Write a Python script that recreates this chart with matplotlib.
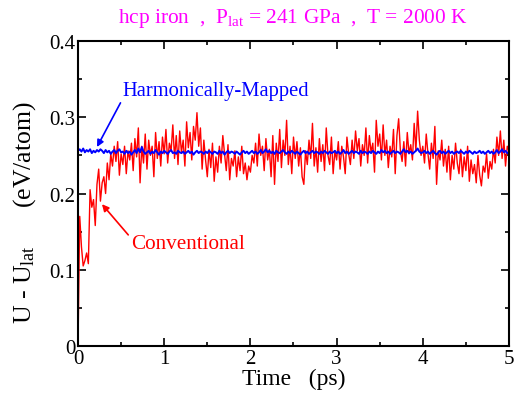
import numpy as np
import matplotlib
matplotlib.use("Agg")
import matplotlib.pyplot as plt
from matplotlib.ticker import MultipleLocator

plt.rcParams['font.family'] = ['Liberation Serif', 'DejaVu Serif']
plt.rcParams['mathtext.fontset'] = 'custom'
plt.rcParams['mathtext.rm'] = 'Liberation Serif'
plt.rcParams['mathtext.it'] = 'Liberation Serif:italic'

# 数据：时间步长 0.02 ps
dt = 0.02
conventional = [
    0.000, 0.170, 0.130, 0.105, 0.112, 0.122, 0.108, 0.205, 0.182, 0.192,
    0.158, 0.212, 0.232, 0.190, 0.214, 0.222, 0.200, 0.240, 0.218, 0.252,
    0.236, 0.262, 0.242, 0.268, 0.224, 0.252, 0.238, 0.262, 0.226, 0.256,
    0.244, 0.266, 0.230, 0.272, 0.248, 0.286, 0.214, 0.262, 0.240, 0.278,
    0.232, 0.270, 0.250, 0.262, 0.222, 0.280, 0.246, 0.268, 0.236, 0.274,
    0.252, 0.284, 0.240, 0.266, 0.256, 0.290, 0.246, 0.276, 0.238, 0.282,
    0.254, 0.270, 0.236, 0.294, 0.260, 0.280, 0.244, 0.288, 0.270, 0.306,
    0.262, 0.286, 0.232, 0.270, 0.244, 0.222, 0.258, 0.234, 0.266, 0.216,
    0.248, 0.228, 0.262, 0.240, 0.276, 0.252, 0.230, 0.264, 0.218, 0.246,
    0.236, 0.256, 0.222, 0.248, 0.230, 0.262, 0.226, 0.240, 0.218, 0.236,
    0.228, 0.250, 0.240, 0.266, 0.236, 0.278, 0.250, 0.262, 0.230, 0.272,
    0.244, 0.258, 0.222, 0.276, 0.212, 0.266, 0.242, 0.284, 0.234, 0.270,
    0.250, 0.296, 0.238, 0.262, 0.226, 0.274, 0.246, 0.268, 0.236, 0.260,
    0.222, 0.212, 0.256, 0.238, 0.270, 0.246, 0.292, 0.236, 0.260, 0.228,
    0.272, 0.242, 0.264, 0.230, 0.286, 0.250, 0.238, 0.274, 0.226, 0.256,
    0.244, 0.268, 0.232, 0.262, 0.248, 0.226, 0.274, 0.252, 0.238, 0.270,
    0.246, 0.282, 0.256, 0.272, 0.236, 0.264, 0.250, 0.286, 0.240, 0.276,
    0.254, 0.266, 0.228, 0.296, 0.262, 0.278, 0.244, 0.290, 0.250, 0.270,
    0.234, 0.262, 0.248, 0.284, 0.226, 0.276, 0.298, 0.256, 0.242, 0.268,
    0.236, 0.280, 0.252, 0.264, 0.244, 0.292, 0.256, 0.308, 0.270, 0.250,
    0.262, 0.240, 0.278, 0.252, 0.232, 0.266, 0.246, 0.288, 0.212, 0.256,
    0.244, 0.270, 0.236, 0.258, 0.228, 0.262, 0.218, 0.250, 0.232, 0.266,
    0.240, 0.226, 0.258, 0.222, 0.248, 0.230, 0.262, 0.216, 0.244, 0.226,
    0.238, 0.214, 0.250, 0.224, 0.210, 0.236, 0.228, 0.252, 0.220, 0.242,
    0.232, 0.258, 0.240, 0.274, 0.250, 0.282, 0.246, 0.270, 0.236, 0.262,
    0.256,
]
mapped = [
    0.256, 0.258, 0.255, 0.259, 0.254, 0.257, 0.255, 0.258, 0.253, 0.256,
    0.254, 0.257, 0.255, 0.258, 0.256, 0.253, 0.257, 0.254, 0.256, 0.252,
    0.255, 0.257, 0.253, 0.256, 0.258, 0.254, 0.255, 0.252, 0.256, 0.253,
    0.255, 0.251, 0.254, 0.257, 0.253, 0.259, 0.254, 0.261, 0.255, 0.252,
    0.254, 0.256, 0.252, 0.255, 0.253, 0.257, 0.254, 0.251, 0.255, 0.253,
    0.256, 0.254, 0.252, 0.255, 0.257, 0.253, 0.254, 0.252, 0.256, 0.254,
    0.253, 0.255, 0.252, 0.254, 0.256, 0.253, 0.255, 0.251, 0.254, 0.256,
    0.253, 0.255, 0.254, 0.252, 0.255, 0.253, 0.256, 0.254, 0.252, 0.255,
    0.254, 0.252, 0.256, 0.253, 0.255, 0.251, 0.254, 0.256, 0.253, 0.255,
    0.254, 0.252, 0.255, 0.253, 0.251, 0.254, 0.256, 0.253, 0.255, 0.252,
    0.254, 0.256, 0.253, 0.255, 0.252, 0.254, 0.257, 0.253, 0.255, 0.258,
    0.254, 0.256, 0.253, 0.255, 0.252, 0.256, 0.254, 0.253, 0.255, 0.257,
    0.254, 0.252, 0.255, 0.253, 0.256, 0.254, 0.252, 0.255, 0.253, 0.251,
    0.254, 0.256, 0.253, 0.255, 0.252, 0.254, 0.256, 0.253, 0.255, 0.254,
    0.252, 0.255, 0.253, 0.256, 0.254, 0.252, 0.255, 0.253, 0.254, 0.256,
    0.253, 0.255, 0.252, 0.254, 0.257, 0.253, 0.255, 0.252, 0.254, 0.256,
    0.253, 0.255, 0.254, 0.252, 0.256, 0.253, 0.255, 0.254, 0.252, 0.255,
    0.253, 0.256, 0.254, 0.252, 0.255, 0.253, 0.257, 0.254, 0.256, 0.253,
    0.255, 0.252, 0.254, 0.256, 0.253, 0.255, 0.254, 0.252, 0.255, 0.258,
    0.254, 0.256, 0.253, 0.255, 0.252, 0.254, 0.256, 0.259, 0.255, 0.253,
    0.254, 0.256, 0.253, 0.255, 0.252, 0.254, 0.256, 0.253, 0.251, 0.254,
    0.256, 0.253, 0.255, 0.252, 0.254, 0.256, 0.253, 0.255, 0.252, 0.254,
    0.255, 0.253, 0.256, 0.254, 0.252, 0.255, 0.253, 0.256, 0.254, 0.252,
    0.255, 0.253, 0.254, 0.256, 0.253, 0.255, 0.252, 0.254, 0.256, 0.253,
    0.255, 0.252, 0.254, 0.257, 0.253, 0.255, 0.258, 0.254, 0.256, 0.253,
    0.254,
]
time = np.arange(len(conventional)) * dt

fig = plt.figure(figsize=(5.18, 4.02), dpi=100)
ax = fig.add_axes([0.1506, 0.1368, 0.832, 0.7587])

ax.plot(time, conventional, color='#ff0000', lw=1.0)
ax.plot(time, mapped, color='#0000ff', lw=1.4)

ax.set_xlim(0, 5)
ax.set_ylim(0, 0.4)
ax.xaxis.set_minor_locator(MultipleLocator(0.5))
ax.yaxis.set_minor_locator(MultipleLocator(0.05))
ax.set_xticks([0, 1, 2, 3, 4, 5])
ax.set_xticklabels(['0', '1', '2', '3', '4', '5'])
ax.set_yticks([0, 0.1, 0.2, 0.3, 0.4])
ax.set_yticklabels(['0', '0.1', '0.2', '0.3', '0.4'])
ax.tick_params(which='both', direction='in', top=True, right=True,
               labelsize=15, width=1.2)
ax.tick_params(which='major', length=6, pad=2)
ax.tick_params(which='minor', length=3)
for s in ax.spines.values():
    s.set_linewidth(1.5)

ax.set_xlabel('Time   (ps)', fontsize=17)
ax.xaxis.set_label_coords(0.5, -0.072)
ax.set_ylabel(r'U - U$_{\mathrm{lat}}$      (eV/atom)', fontsize=18.5)
ax.yaxis.set_label_coords(-0.093, 0.44)

fig.text(0.566, 0.955, r'hcp iron  ,  P$_{\mathrm{lat}}$ = 241 GPa  ,  T = 2000 K',
         color='#ff00ff', fontsize=15.4, ha='center', va='center')

# 注释
ax.annotate('Harmonically-Mapped', xy=(0.22, 0.261), xytext=(0.51, 0.335),
            color='#0000ff', fontsize=14.8, va='center', ha='left',
            arrowprops=dict(arrowstyle='-|>', color='#0000ff', lw=1.2,
                            mutation_scale=10, shrinkA=0, shrinkB=0,
                            relpos=(0, 0)))
ax.annotate('Conventional', xy=(0.278, 0.186), xytext=(0.615, 0.134),
            color='#ff0000', fontsize=15.2, va='center', ha='left',
            arrowprops=dict(arrowstyle='-|>', color='#ff0000', lw=1.2,
                            mutation_scale=10, shrinkA=0, shrinkB=0,
                            relpos=(0, 0.8)))

fig.savefig('out.png', dpi=100)
